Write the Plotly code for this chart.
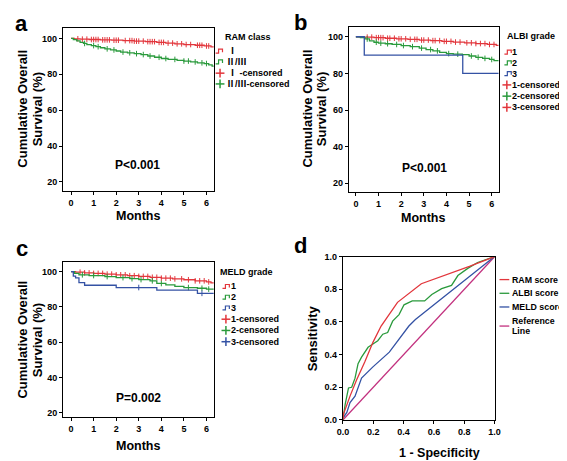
import numpy as np
import plotly.graph_objects as go

W, H = 567, 461
FONT = "Liberation Sans, Arial, Noto Sans CJK SC, sans-serif"

RED = "#e2363c"
GREEN = "#2a9a3c"
BLUE = "#3452a4"
MAG = "#c2307e"

# ---------------- Panel a: RAM class ----------------
a_I_t = [0, 0.15, 0.4, 0.8, 1.3, 1.8, 2.3, 2.8, 3.3, 3.8, 4.2, 4.6, 5.0, 5.5, 5.9, 6.2, 6.4]
a_I_s = [100, 99.8, 99.6, 99.4, 99.2, 99.0, 98.8, 98.5, 98.2, 97.8, 97.4, 97.0, 96.6, 96.2, 95.8, 95.3, 95.3]
a_II_t = [0, 0.1, 0.25, 0.4, 0.55, 0.7, 0.9, 1.1, 1.3, 1.5, 1.75, 2.0, 2.2, 2.5, 2.8, 3.1,
          3.4, 3.7, 4.0, 4.3, 4.7, 5.0, 5.3, 5.6, 5.9, 6.1, 6.25, 6.4]
a_II_s = [100, 99.3, 98.6, 97.8, 97.2, 96.6, 96.0, 95.4, 94.8, 94.2, 93.6, 93.0, 92.4, 92.0,
          91.5, 91.0, 90.2, 89.5, 88.8, 88.3, 87.8, 87.4, 86.9, 86.4, 86.0, 85.3, 84.6, 84.6]
a_I_cens = [0.3, 0.5, 0.7, 0.9, 1.0, 1.1, 1.2, 1.4, 1.5, 1.6, 1.7, 1.9, 2.0, 2.1, 2.4, 2.6, 2.7,
            2.8, 2.9, 3.0, 3.2, 3.4, 3.5, 3.6, 3.7, 3.9, 4.0, 4.1, 4.3, 4.5, 4.7, 4.9, 5.1, 5.3,
            5.6, 5.7, 5.8, 6.0, 6.1]
a_II_cens = [0.6, 1.0, 1.2, 1.6, 1.9, 2.3, 2.6, 2.9, 3.2, 3.5, 3.9, 4.2, 4.6, 5.0, 5.2, 5.5, 5.8, 6.0]

# ---------------- Panel b: ALBI grade ----------------
b1_t = [0, 0.3, 0.8, 1.3, 1.8, 2.3, 2.8, 3.3, 3.8, 4.3, 4.8, 5.3, 5.8, 6.2, 6.4]
b1_s = [100, 99.8, 99.5, 99.2, 98.9, 98.6, 98.2, 97.9, 97.5, 97.1, 96.7, 96.3, 95.8, 95.3, 95.3]
b2_t = [0, 0.2, 0.4, 0.6, 0.8, 1.0, 1.3, 1.6, 2.0, 2.4, 2.8, 3.1, 3.4, 3.7, 4.0, 4.3, 4.7,
        5.0, 5.3, 5.6, 5.9, 6.1, 6.4]
b2_s = [100, 99.5, 98.8, 97.8, 97.0, 96.5, 96.2, 95.8, 95.2, 94.6, 93.8, 93.0, 92.3, 91.5,
        90.8, 90.5, 90.2, 89.5, 88.8, 88.2, 87.6, 87.0, 87.0]
b3_t = [0, 0.37, 4.72, 6.4]
b3_s = [100, 90, 80, 80]
b1_cens = [0.5, 0.7, 0.9, 1.0, 1.1, 1.2, 1.4, 1.5, 1.7, 1.9, 2.0, 2.2, 2.4, 2.6, 2.7, 2.9,
           3.0, 3.2, 3.4, 3.5, 3.7, 3.9, 4.0, 4.2, 4.4, 4.6, 4.9, 5.1, 5.3, 5.5, 5.7, 5.9, 6.1]
b2_cens = [0.5, 0.9, 1.1, 1.4, 1.8, 2.1, 2.5, 2.9, 3.3, 3.6, 4.1, 4.5, 5.1, 5.4, 5.7, 6.0]

# ---------------- Panel c: MELD grade ----------------
c1_t = [0, 0.2, 0.6, 1.0, 1.5, 2.0, 2.5, 3.0, 3.5, 4.0, 4.5, 5.0, 5.5, 6.0, 6.2, 6.4]
c1_s = [100, 99.7, 99.3, 99.0, 98.6, 98.2, 97.7, 97.3, 96.8, 96.3, 95.9, 95.4, 94.8, 94.2, 93.6, 93.6]
c2_t = [0, 0.15, 0.35, 0.8, 1.5, 2.0, 2.6, 3.0, 3.5, 3.8, 4.2, 4.6, 5.0, 5.6, 6.0, 6.4]
c2_s = [100, 99.0, 98.2, 97.8, 97.2, 96.6, 96.0, 95.5, 94.8, 93.3, 92.5, 91.6, 91.0, 90.6, 90.1, 90.1]
c3_t = [0, 0.1, 0.2, 0.35, 0.6, 2.0, 3.8, 5.6, 6.4]
c3_s = [100, 97.5, 96.5, 93.8, 92.3, 91.0, 89.5, 87.7, 87.7]
c1_cens = [0.4, 0.6, 0.8, 1.0, 1.2, 1.4, 1.6, 1.8, 2.0, 2.2, 2.4, 2.6, 2.8, 3.0, 3.2, 3.4,
           3.6, 3.8, 4.0, 4.2, 4.4, 4.6, 4.9, 5.2, 5.5, 5.7, 5.9, 6.1]
c2_cens = [0.5, 1.0, 1.6, 2.3, 2.7, 3.1, 3.6, 4.0, 5.2, 5.8, 6.1]
c3_cens = [3.0, 5.8]

# ---------------- Panel d: ROC ----------------
ram_fpr = [0, 0.004, 0.047, 0.09, 0.144, 0.198, 0.252, 0.36, 0.517, 0.672, 0.834, 1.0]
ram_tpr = [0, 0.036, 0.146, 0.245, 0.355, 0.475, 0.575, 0.72, 0.834, 0.884, 0.94, 1.0]
albi_fpr = [0, 0.015, 0.037, 0.058, 0.08, 0.10, 0.123, 0.144, 0.166, 0.198, 0.23, 0.263, 0.295,
            0.328, 0.37, 0.403, 0.457, 0.539, 0.586, 0.651, 0.716, 0.758, 0.823, 0.888, 0.952, 1.0]
albi_tpr = [0, 0.096, 0.196, 0.2, 0.256, 0.345, 0.385, 0.415, 0.445, 0.465, 0.485, 0.525, 0.535,
            0.605, 0.645, 0.705, 0.729, 0.729, 0.768, 0.804, 0.824, 0.884, 0.928, 0.964, 0.984, 1.0]
meld_fpr = [0, 0.026, 0.047, 0.08, 0.123, 0.198, 0.306, 0.435, 0.478, 1.0]
meld_tpr = [0.01, 0.046, 0.106, 0.146, 0.256, 0.325, 0.415, 0.575, 0.615, 1.0]
ref_fpr = [0, 1]
ref_tpr = [0, 1]

km_ticks_x = [0, 1, 2, 3, 4, 5, 6]
km_ticks_y = [20, 40, 60, 80, 100]
roc_ticks = [0.0, 0.2, 0.4, 0.6, 0.8, 1.0]
roc_ticklabels = ["0.0", "0.2", "0.4", "0.6", "0.8", "1.0"]


def px(x):
    return x / W


def py(y):
    return 1 - y / H


def step_at(t, s, x):
    t = np.asarray(t)
    idx = np.searchsorted(t, x, side="right") - 1
    return [s[i] for i in idx]


fig = go.Figure()


def km(t, s, cens, color, xa, ya):
    fig.add_trace(go.Scatter(x=t, y=s, mode="lines", line=dict(color=color, width=1.3, shape="hv"),
                             xaxis=xa, yaxis=ya, showlegend=False, hoverinfo="skip"))
    if cens:
        fig.add_trace(go.Scatter(x=cens, y=step_at(t, s, cens), mode="markers",
                                 marker=dict(symbol="line-ns", size=4, line=dict(color=color, width=1)),
                                 xaxis=xa, yaxis=ya, showlegend=False, hoverinfo="skip"))


km(a_I_t, a_I_s, a_I_cens, RED, "x", "y")
km(a_II_t, a_II_s, a_II_cens, GREEN, "x", "y")
km(b1_t, b1_s, b1_cens, RED, "x2", "y2")
km(b2_t, b2_s, b2_cens, GREEN, "x2", "y2")
km(b3_t, b3_s, [], BLUE, "x2", "y2")
km(c1_t, c1_s, c1_cens, RED, "x3", "y3")
km(c2_t, c2_s, c2_cens, GREEN, "x3", "y3")
km(c3_t, c3_s, c3_cens, BLUE, "x3", "y3")

for xs, ys, col in [(ref_fpr, ref_tpr, MAG), (meld_fpr, meld_tpr, BLUE),
                    (albi_fpr, albi_tpr, GREEN), (ram_fpr, ram_tpr, RED)]:
    fig.add_trace(go.Scatter(x=xs, y=ys, mode="lines", line=dict(color=col, width=1.3),
                             xaxis="x4", yaxis="y4", showlegend=False, hoverinfo="skip"))

tickfont = dict(family=FONT, size=9, color="black", weight="bold")
common = dict(showline=True, linecolor="black", linewidth=1, mirror=True, ticks="outside",
              ticklen=3, tickwidth=1, tickcolor="black", showgrid=False, zeroline=False,
              tickfont=tickfont, fixedrange=True)

fig.update_layout(
    width=W, height=H, margin=dict(l=0, r=0, t=0, b=0),
    paper_bgcolor="white", plot_bgcolor="white", showlegend=False,
    xaxis=dict(domain=[px(50), px(204)], range=[-0.36, 6.32], tickvals=km_ticks_x, anchor="y", **common),
    yaxis=dict(domain=[py(182), py(15)], range=[14.9, 106], tickvals=km_ticks_y, anchor="x", **common),
    xaxis2=dict(domain=[px(342), px(495)], range=[-0.315, 6.3], tickvals=km_ticks_x, anchor="y2", **common),
    yaxis2=dict(domain=[py(183), py(14)], range=[15.2, 105.5], tickvals=km_ticks_y, anchor="x2", **common),
    xaxis3=dict(domain=[px(50), px(204)], range=[-0.36, 6.32], tickvals=km_ticks_x, anchor="y3", **common),
    yaxis3=dict(domain=[py(413), py(255)], range=[17.6, 105.2], tickvals=km_ticks_y, anchor="x3", **common),
    xaxis4=dict(domain=[px(336), px(491)], range=[0, 1], tickvals=roc_ticks, ticktext=roc_ticklabels,
                anchor="y4", **common),
    yaxis4=dict(domain=[py(416), py(249)], range=[0, 1], tickvals=roc_ticks, ticktext=roc_ticklabels,
                anchor="x4", **common),
)

ann = []
shapes = []


def text(x, y, s, size=9, anchor="left", angle=0, bold=True):
    ann.append(dict(x=px(x), y=py(y), xref="paper", yref="paper", text=s, showarrow=False,
                    xanchor=anchor, yanchor="middle", textangle=angle, borderpad=0,
                    font=dict(family=FONT, size=size, color="black", weight="bold" if bold else "normal")))


# panel letters
text(8, 11, "a", size=22, anchor="center")
text(293, 10, "b", size=22, anchor="center")
text(8, 241, "c", size=22, anchor="center")
text(293, 238, "d", size=22, anchor="center")

# axis titles
for (x1, x2, yc) in [(9, 24, 98), (300, 315, 98), (9, 24, 334)]:
    text(x1, yc, "Cumulative Overall", size=13, anchor="center", angle=-90)
    text(x2, yc, "Survival (%)", size=13, anchor="center", angle=-90)
text(127, 208, "Months", size=12.5, anchor="center")
text(418, 210, "Months", size=12.5, anchor="center")
text(127, 443, "Months", size=12.5, anchor="center")
text(305, 333, "Sensitivity", size=13, anchor="center", angle=-90)
text(435, 450, "1 - Specificity", size=12.5, anchor="center")

# p-values
text(126, 155, "P<0.001", size=12, anchor="center")
text(419, 158, "P<0.001", size=12, anchor="center")
text(127, 394, "P=0.002", size=12, anchor="center")


def step_icon(x, y, color):
    pts = [(x, y + 2), (x + 3, y + 2), (x + 3, y - 2), (x + 7, y - 2), (x + 7, y + 1)]
    path = "M " + " L ".join(f"{px(a):.5f},{py(b):.5f}" for a, b in pts)
    shapes.append(dict(type="path", path=path, xref="paper", yref="paper",
                       line=dict(color=color, width=1.2)))


def plus_icon(x, y, color):
    shapes.append(dict(type="line", xref="paper", yref="paper", x0=px(x), x1=px(x + 9),
                       y0=py(y), y1=py(y), line=dict(color=color, width=1.5)))
    shapes.append(dict(type="line", xref="paper", yref="paper", x0=px(x + 4.5), x1=px(x + 4.5),
                       y0=py(y - 4.5), y1=py(y + 4.5), line=dict(color=color, width=1.5)))


# legend a
text(239, 25, "RAM class", anchor="center")
step_icon(206, 39, RED); text(218, 39, "Ⅰ")
step_icon(206, 50, GREEN); text(216, 50.5, "Ⅱ/Ⅲ")
plus_icon(206, 61.5, RED); text(218, 61.5, "Ⅰ -censored")
plus_icon(206, 72.5, GREEN); text(216, 72.5, "Ⅱ/Ⅲ-censored")

# legend b
text(528, 24, "ALBI grade", anchor="center")
ys_b = [40, 51, 62, 73.5, 85, 96.5]
step_icon(501, ys_b[0], RED); text(508, ys_b[0], "1")
step_icon(501, ys_b[1], GREEN); text(508, ys_b[1], "2")
step_icon(501, ys_b[2], BLUE); text(508, ys_b[2], "3")
plus_icon(499, ys_b[3], RED); text(508, ys_b[3], "1-censored")
plus_icon(499, ys_b[4], GREEN); text(508, ys_b[4], "2-censored")
plus_icon(499, ys_b[5], RED); text(508, ys_b[5], "3-censored")

# legend c
text(238, 264.5, "MELD grade", anchor="center")
ys_c = [279.5, 290.5, 301.5, 313, 324.5, 336]
step_icon(213, ys_c[0], RED); text(221, ys_c[0], "1")
step_icon(213, ys_c[1], GREEN); text(221, ys_c[1], "2")
step_icon(213, ys_c[2], BLUE); text(221, ys_c[2], "3")
plus_icon(212, ys_c[3], RED); text(221, ys_c[3], "1-censored")
plus_icon(212, ys_c[4], GREEN); text(221, ys_c[4], "2-censored")
plus_icon(212, ys_c[5], BLUE); text(221, ys_c[5], "3-censored")

# legend d
for yy, col, lab in [(272.5, RED, "RAM score"), (286.5, GREEN, "ALBI score"), (300.5, BLUE, "MELD score")]:
    shapes.append(dict(type="line", xref="paper", yref="paper", x0=px(496), x1=px(506),
                       y0=py(yy), y1=py(yy), line=dict(color=col, width=1.3)))
    text(508, yy, lab, size=8.8)
shapes.append(dict(type="line", xref="paper", yref="paper", x0=px(496), x1=px(506),
                   y0=py(320), y1=py(320), line=dict(color=MAG, width=1.3)))
text(508, 314.5, "Reference", size=8.8)
text(508, 325, "Line", size=8.8)

fig.update_layout(annotations=ann, shapes=shapes)
fig.write_html("out.html")
